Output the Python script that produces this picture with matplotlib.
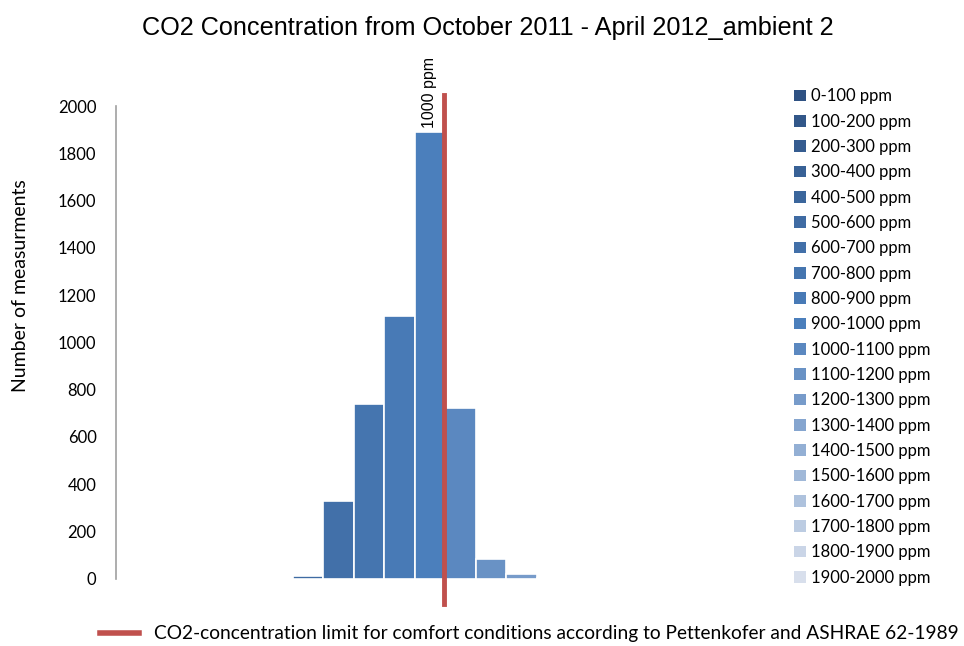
import numpy as np
import matplotlib.pyplot as plt
from matplotlib.colors import to_rgb
from matplotlib.lines import Line2D
from matplotlib.patches import Patch

# CO2 bins (ppm) and number of measurements in each bin
bins = ['0-100 ppm', '100-200 ppm', '200-300 ppm', '300-400 ppm', '400-500 ppm',
        '500-600 ppm', '600-700 ppm', '700-800 ppm', '800-900 ppm', '900-1000 ppm',
        '1000-1100 ppm', '1100-1200 ppm', '1200-1300 ppm', '1300-1400 ppm',
        '1400-1500 ppm', '1500-1600 ppm', '1600-1700 ppm', '1700-1800 ppm',
        '1800-1900 ppm', '1900-2000 ppm']
counts = [1, 0, 0, 0, 0, 11, 329, 739, 1112, 1891, 722, 85, 20, 4, 1, 1, 1, 1, 1, 1]
limit_ppm = 1000
bin_size = 100


def blend(c1, c2, n):
    a, b = np.array(to_rgb(c1)), np.array(to_rgb(c2))
    return [tuple(a + (b - a) * t) for t in np.linspace(0, 1, n)]


colors = blend('#2f5283', '#4b7fbc', 10) + blend('#5b88c0', '#d8dfec', 10)

fig = plt.figure(figsize=(9.64, 6.46), dpi=100)
ax = fig.add_axes([116 / 964, 1 - 578.7 / 646, 640 / 964, 472.7 / 646])

x = np.arange(len(counts))
ax.bar(x, counts, width=1.0, color=colors, edgecolor='white', linewidth=1.2, zorder=2)

ax.set_xlim(-1.29, 19.69)
ax.set_ylim(0, 2000)
ax.set_yticks(range(0, 2001, 200))
ax.set_xticks([])
ax.tick_params(axis='y', length=0, pad=14, labelsize=12)
for lab in ax.get_yticklabels():
    lab.set_fontfamily('Lato')
for s in ['top', 'right', 'bottom']:
    ax.spines[s].set_visible(False)
ax.spines['left'].set_color('#a0a0a0')
ax.spines['left'].set_linewidth(1.2)

ax.set_ylabel('Number of measurments', fontsize=14, family='Lato')
ax.yaxis.set_label_coords(-0.136, 0.62)

# comfort limit line
xl = limit_ppm / bin_size - 0.55
ax.plot([xl, xl], [-107, 2045], color='#c0504d', lw=3.5, clip_on=False, zorder=3)
ax.text(xl - 0.45, 1908, f'{limit_ppm} ppm', rotation=90, ha='center', va='bottom',
        fontsize=11.5, family='Liberation Sans')

fig.text(0.506, 0.957, 'CO2 Concentration from October 2011 - April 2012_ambient 2',
         ha='center', va='center', fontsize=18.2, family='Liberation Sans')

handles = [Patch(facecolor=c, edgecolor='none') for c in colors]
fig.legend(handles, bins, loc='upper left', bbox_to_anchor=(0.815, 0.876),
           frameon=False, handlelength=0.7, handleheight=0.7,
           handletextpad=0.35, labelspacing=0.56, borderpad=0,
           prop={'family': 'Lato', 'size': 12})

fig.legend([Line2D([0], [0], color='#c0504d', lw=4)],
           ['CO2-concentration limit for comfort conditions according to Pettenkofer and ASHRAE 62-1989'],
           loc='center left', bbox_to_anchor=(0.094, 0.019), frameon=False,
           handlelength=2.0, handletextpad=0.8, borderpad=0,
           prop={'family': 'Lato', 'size': 13.8})

fig.savefig('out.png', dpi=100)
